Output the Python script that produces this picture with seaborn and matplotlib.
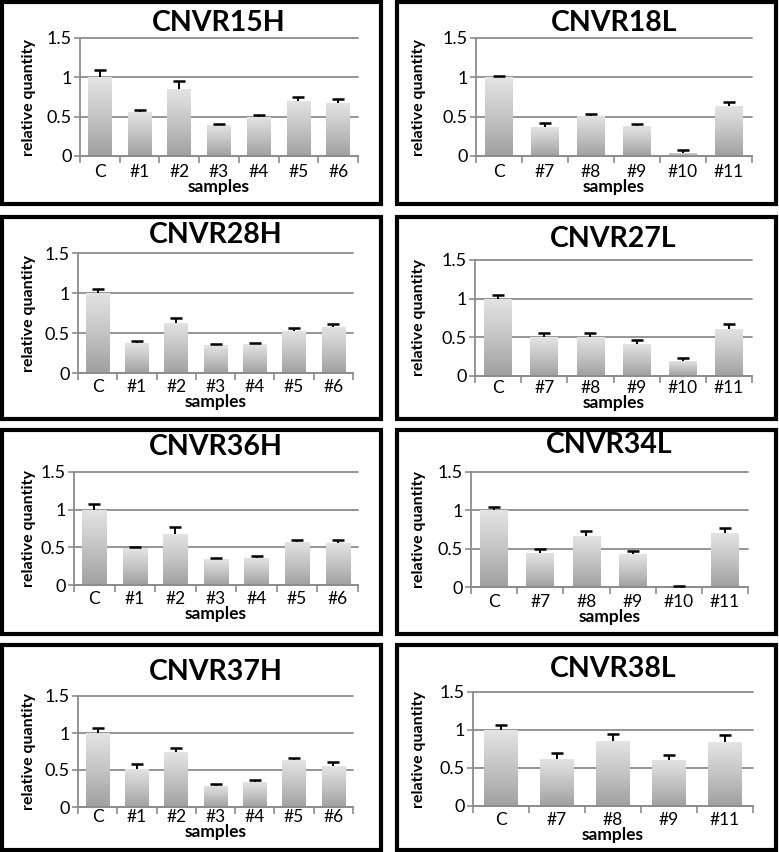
import numpy as np
import pandas as pd
import matplotlib
matplotlib.use("Agg")
import matplotlib.pyplot as plt
import seaborn as sns
from matplotlib.patches import Rectangle
from matplotlib.colors import LinearSegmentedColormap

# ---------------------------------------------------------------
# DATA  (relative quantity, upper error only)
# ---------------------------------------------------------------
SAMPLES_H = ["C", "#1", "#2", "#3", "#4", "#5", "#6"]
SAMPLES_L = ["C", "#7", "#8", "#9", "#10", "#11"]
SAMPLES_38L = ["C", "#7", "#8", "#9", "#11"]

cnvr15h_mean = [1.00, 0.56, 0.85, 0.39, 0.50, 0.70, 0.68]
cnvr15h_err = [0.09, 0.025, 0.10, 0.012, 0.02, 0.045, 0.04]

cnvr18l_mean = [1.00, 0.365, 0.51, 0.38, 0.04, 0.63]
cnvr18l_err = [0.02, 0.05, 0.03, 0.03, 0.03, 0.055]

cnvr28h_mean = [1.00, 0.37, 0.63, 0.35, 0.36, 0.53, 0.58]
cnvr28h_err = [0.05, 0.03, 0.06, 0.01, 0.015, 0.03, 0.03]

cnvr27l_mean = [1.00, 0.50, 0.51, 0.42, 0.20, 0.61]
cnvr27l_err = [0.045, 0.055, 0.045, 0.05, 0.03, 0.065]

cnvr36h_mean = [1.00, 0.49, 0.68, 0.34, 0.365, 0.575, 0.56]
cnvr36h_err = [0.07, 0.01, 0.09, 0.02, 0.015, 0.025, 0.035]

cnvr34l_mean = [1.00, 0.44, 0.67, 0.43, 0.005, 0.71]
cnvr34l_err = [0.05, 0.05, 0.06, 0.035, 0.005, 0.06]

cnvr37h_mean = [1.00, 0.52, 0.74, 0.29, 0.335, 0.63, 0.55]
cnvr37h_err = [0.07, 0.065, 0.06, 0.02, 0.03, 0.03, 0.06]

cnvr38l_mean = [1.00, 0.625, 0.85, 0.61, 0.84]
cnvr38l_err = [0.07, 0.075, 0.10, 0.065, 0.09]

Y_TICKS = [0, 0.5, 1, 1.5]
Y_TICK_LABELS = ["0", "0.5", "1", "1.5"]

panels = [
    ("CNVR15H", SAMPLES_H, cnvr15h_mean, cnvr15h_err),
    ("CNVR18L", SAMPLES_L, cnvr18l_mean, cnvr18l_err),
    ("CNVR28H", SAMPLES_H, cnvr28h_mean, cnvr28h_err),
    ("CNVR27L", SAMPLES_L, cnvr27l_mean, cnvr27l_err),
    ("CNVR36H", SAMPLES_H, cnvr36h_mean, cnvr36h_err),
    ("CNVR34L", SAMPLES_L, cnvr34l_mean, cnvr34l_err),
    ("CNVR37H", SAMPLES_H, cnvr37h_mean, cnvr37h_err),
    ("CNVR38L", SAMPLES_38L, cnvr38l_mean, cnvr38l_err),
]

# ---------------------------------------------------------------
# LAYOUT (pixels): axes left, right, top (1.5), zero line,
# title gap above axes, tick-label pad below zero line
# ---------------------------------------------------------------
W, H = 779, 852
axes_px = [
    (80, 358, 38, 156, 7, 8),
    (476, 752, 38, 156, 7, 8),
    (78, 353, 253, 373, 10, 6),
    (475, 752, 260, 376, 13, 4),
    (74, 358, 472, 585, 17, 6),
    (471, 748, 472, 587, 19, 7),
    (78, 353, 696, 807, 16, 2),
    (473, 753, 692, 806, 15, 6),
]
# panel frames (centre line of the thick border)
col_x = [(2, 381), (397, 776)]
row_y = [(2, 204), (217, 419), (430, 634), (645, 850)]

sns.set_theme(style="white")
plt.rcParams["font.family"] = ["Lato", "DejaVu Sans"]

fig = plt.figure(figsize=(W / 100, H / 100), dpi=100)
fig.patch.set_facecolor("white")

for r, (y0, y1) in enumerate(row_y):
    for c, (x0, x1) in enumerate(col_x):
        fig.patches.append(Rectangle((x0 / W, 1 - y1 / H), (x1 - x0) / W, (y1 - y0) / H,
                                     transform=fig.transFigure, fill=False,
                                     edgecolor="black", linewidth=3.0))

grad_cmap = LinearSegmentedColormap.from_list("bar", ["#a0a0a0", "#c4c4c4", "#e4e4e4"])
grid_col = "#8c8c8c"

for (title, cats, means, errs), (l, rgt, top, zero, tpad, tkpad) in zip(panels, axes_px):
    ax = fig.add_axes([l / W, 1 - zero / H, (rgt - l) / W, (zero - top) / H])
    df = pd.DataFrame({"samples": cats, "value": means})
    sns.barplot(data=df, x="samples", y="value", order=cats, color="#c8c8c8",
                width=0.6, ax=ax, zorder=2)
    # gradient fill inside each bar
    grad = np.linspace(0, 1, 256).reshape(-1, 1)
    for p in ax.patches:
        bx, bw, bh = p.get_x(), p.get_width(), p.get_height()
        if bh <= 0:
            continue
        im = ax.imshow(grad, extent=[bx, bx + bw, 0, bh], origin="lower",
                       cmap=grad_cmap, aspect="auto", zorder=2, interpolation="bicubic")
        im.set_clip_path(p)
        p.set_facecolor("none")
        p.set_edgecolor("none")
    xpos = np.arange(len(cats))
    _, caps, _ = ax.errorbar(xpos, means, yerr=[np.zeros(len(errs)), errs], fmt="none",
                             ecolor="black", elinewidth=1.4, capsize=4, capthick=1.8,
                             zorder=3)
    caps[0].set_visible(False)  # only the upper cap, Excel style

    ax.set_xlim(-0.5, len(cats) - 0.5)
    ax.set_ylim(0, 1.5)
    ax.set_yticks(Y_TICKS)
    ax.set_yticklabels(Y_TICK_LABELS, fontsize=13)
    ax.set_xticks(xpos)
    ax.set_xticklabels(cats, fontsize=12.5)
    ax.set_xticks(np.arange(len(cats) + 1) - 0.5, minor=True)
    ax.tick_params(axis="x", which="major", length=0, pad=tkpad * 0.72, colors="black")
    ax.tick_params(axis="x", which="minor", length=5, width=1.2, color=grid_col,
                   direction="out", bottom=True)
    ax.tick_params(axis="y", which="major", length=4, width=1.2, color=grid_col,
                   direction="out", left=True, pad=2, labelcolor="black")

    ax.yaxis.grid(True, color=grid_col, linewidth=1.3, clip_on=False)
    ax.xaxis.grid(False)
    ax.set_axisbelow(True)
    for side in ["top", "right"]:
        ax.spines[side].set_visible(False)
    for side in ["left", "bottom"]:
        ax.spines[side].set_color(grid_col)
        ax.spines[side].set_linewidth(1.3)

    ax.set_title(title, fontsize=20.5, fontweight="bold", pad=tpad * 0.72, color="black")
    ax.set_xlabel("samples", fontsize=12.5, fontweight="bold", color="black", labelpad=-1)
    ax.set_ylabel("relative quantity", fontsize=11.5, fontweight="bold", color="black")
    ax.yaxis.set_label_coords(-(l - (36 if l < 390 else 426)) / (rgt - l), 0.5)

fig.savefig("out.png", dpi=100)
